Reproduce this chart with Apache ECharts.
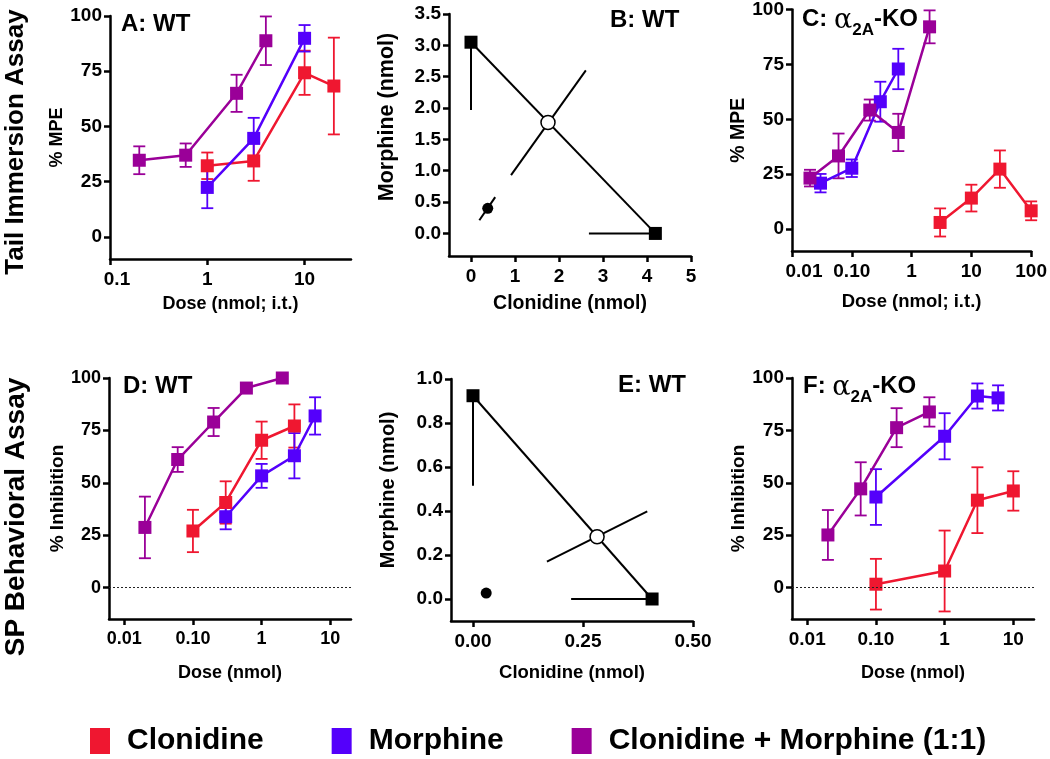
<!DOCTYPE html>
<html>
<head>
<meta charset="utf-8">
<script src="https://cdn.jsdelivr.net/npm/echarts@6/dist/echarts.min.js"></script>
<style>
  html, body { margin: 0; padding: 0; background: #fff; }
  #main { width: 1050px; height: 759px; }
</style>
</head>
<body>
<div id="main"></div>
<script>
const drugs = ["Clonidine", "Morphine", "Clonidine + Morphine (1:1)"];
const colors = ["#ef1730", "#5400fb", "#9a0098"];

// A: tail immersion, WT  (dose nmol, %MPE, SEM)
const aClonDose = [1, 3, 10, 20];
const aClonMean = [32.2, 34.4, 74.3, 68.3];
const aClonSem = [6.0, 9.0, 10.0, 21.9];
const aMorDose = [1, 3, 10];
const aMorMean = [22.4, 44.6, 89.9];
const aMorSem = [9.4, 9.3, 6.0];
const aMixDose = [0.2, 0.6, 2, 4];
const aMixMean = [34.7, 37.0, 65.0, 88.8];
const aMixSem = [6.3, 5.3, 8.4, 11.0];

// C: tail immersion, a2A-KO
const cClonDose = [3, 10, 30, 100];
const cClonMean = [3.0, 14.1, 27.3, 8.3];
const cClonSem = [6.4, 6.1, 8.5, 4.3];
const cMorDose = [0.03, 0.1, 0.3, 0.6];
const cMorMean = [20.9, 27.7, 58.0, 72.9];
const cMorSem = [4.2, 4.0, 9.1, 9.2];
const cMixDose = [0.02, 0.06, 0.2, 0.6, 2];
const cMixMean = [23.2, 33.3, 54.2, 44.0, 92.1];
const cMixSem = [3.8, 10.2, 4.8, 8.5, 7.5];

// D: SP behavioral, WT (% inhibition)
const dClonDose = [0.1, 0.3, 1, 3];
const dClonMean = [27.0, 40.6, 70.3, 77.1];
const dClonSem = [10.1, 10.1, 8.9, 10.3];
const dMorDose = [0.3, 1, 3, 6];
const dMorMean = [33.8, 53.3, 62.9, 81.9];
const dMorSem = [6.0, 5.7, 10.8, 8.9];
const dMixDose = [0.02, 0.06, 0.2, 0.6, 2];
const dMixMean = [28.7, 61.1, 79.0, 95.2, 100];
const dMixSem = [14.7, 5.9, 6.7, 0, 0];

// F: SP behavioral, a2A-KO
const fClonDose = [0.1, 1, 3, 10];
const fClonMean = [1.6, 7.9, 41.7, 46.1];
const fClonSem = [12.1, 19.3, 15.7, 9.4];
const fMorDose = [0.1, 1, 3, 6];
const fMorMean = [43.2, 72.2, 91.4, 90.5];
const fMorSem = [13.3, 11.0, 6.0, 6.0];
const fMixDose = [0.02, 0.06, 0.2, 0.6];
const fMixMean = [25.1, 47.1, 76.3, 83.8];
const fMixSem = [11.9, 12.7, 9.3, 7.0];

// B: isobologram, tail immersion (clonidine nmol, morphine nmol)
const bMorEd50 = [0, 3.05];
const bMorLow = [0, 1.97];
const bClonEd50 = [4.19, 0];
const bClonLow = [2.68, 0];
const bTheory = [1.75, 1.77];
const bTheoryCi = [[0.91, 0.93], [2.61, 2.6]];
const bExp = [0.38, 0.40];
const bExpCi = [[0.19, 0.21], [0.55, 0.58]];

// E: isobologram, SP behavioral
const eMorEd50 = [0, 0.924];
const eMorLow = [0, 0.515];
const eClonEd50 = [0.407, 0];
const eClonLow = [0.223, 0];
const eTheory = [0.282, 0.283];
const eTheoryCi = [[0.168, 0.17], [0.396, 0.398]];
const eExp = [0.030, 0.027];
const eExpCi = [[0.022, 0.019], [0.038, 0.035]];

const pctTicks = [0, 25, 50, 75, 100];
const logTicksA = [0.1, 1, 10];
const logLabelsA = ["0.1", "1", "10"];
const logTicksC = [0.01, 0.1, 1, 10, 100];
const logLabelsC = ["0.01", "0.10", "1", "10", "100"];
const logTicksDF = [0.01, 0.1, 1, 10];
const logLabelsDF = ["0.01", "0.10", "1", "10"];
const bYTicks = [0, 0.5, 1, 1.5, 2, 2.5, 3, 3.5];
const bXTicks = [0, 1, 2, 3, 4, 5];
const eYTicks = [0, 0.2, 0.4, 0.6, 0.8, 1.0];
const eXTicks = [0, 0.25, 0.5];

const FONT = '"Liberation Sans", Arial, sans-serif';

const dom = document.getElementById("main");
const myChart = echarts.init(dom);

const grids = [
  { left: 110, top: 16, width: 241, height: 243 },
  { left: 449, top: 14, width: 242, height: 242 },
  { left: 792, top: 9, width: 242, height: 242 },
  { left: 109, top: 378, width: 242, height: 241 },
  { left: 451, top: 379, width: 242, height: 242 },
  { left: 792, top: 378, width: 242, height: 241 },
];

function axisBase(g) {
  return {
    gridIndex: g,
    axisLine: { onZero: false, lineStyle: { color: "#000", width: 2.5 } },
    axisTick: { length: 6, lineStyle: { color: "#000", width: 2.5 } },
    splitLine: { show: false },
    nameLocation: "middle",
  };
}

function labelOf(ticks, labels, v) {
  const k = ticks.findIndex((t) => Math.abs(t - v) < 1e-9 * Math.max(1, t));
  return k < 0 ? "" : labels[k];
}

function logX(g, min, max, ticks, labels, name, opt) {
  const shift = opt.shift || 0;
  return Object.assign(axisBase(g), {
    type: "log",
    logBase: 10,
    min: min,
    max: max,
    name: name,
    nameGap: opt.gap,
    nameTextStyle: { fontSize: opt.nameSize, fontWeight: "bold", fontFamily: FONT, color: "#000" },
    axisTick: { length: 6, lineStyle: { color: "#000", width: 2.5 }, customValues: ticks },
    axisLabel: {
      customValues: ticks,
      margin: 11,
      fontSize: opt.size,
      fontWeight: "bold",
      fontFamily: FONT,
      color: "#000",
      formatter: (v) => {
        const s = labelOf(ticks, labels, v);
        return shift && Math.abs(v - ticks[0]) < 1e-12 ? "{m|" + s + "}" : s;
      },
      rich: {
        m: { fontSize: opt.size, fontWeight: "bold", fontFamily: FONT, color: "#000", padding: [0, 0, 0, shift * 2] },
      },
    },
  });
}

function valAxis(g, min, max, ticks, digits, name, opt) {
  const ax = Object.assign(axisBase(g), {
    type: "value",
    min: min,
    max: max,
    name: name,
    nameGap: opt.gap,
    nameTextStyle: {
      fontSize: opt.nameSize, fontWeight: "bold", fontFamily: FONT, color: "#000",
      padding: opt.namePad || 0,
    },
    axisTick: { length: 6, lineStyle: { color: "#000", width: 2.5 }, customValues: ticks },
    axisLabel: {
      customValues: ticks,
      margin: opt.margin || 8,
      fontSize: opt.size,
      fontWeight: "bold",
      fontFamily: FONT,
      color: "#000",
      formatter: (v) => v.toFixed(digits),
    },
  });
  return ax;
}

function errRender(color) {
  return function (params, api) {
    const x = api.value(0);
    const lo = api.value(1);
    const hi = api.value(2);
    if (!(hi - lo > 0)) return null;
    const p0 = api.coord([x, lo]);
    const p1 = api.coord([x, hi]);
    const w = 6;
    const st = { stroke: color, lineWidth: 1.8 };
    return {
      type: "group",
      children: [
        { type: "line", shape: { x1: p0[0], y1: p0[1], x2: p1[0], y2: p1[1] }, style: st },
        { type: "line", shape: { x1: p0[0] - w, y1: p0[1], x2: p0[0] + w, y2: p0[1] }, style: st },
        { type: "line", shape: { x1: p1[0] - w, y1: p1[1], x2: p1[0] + w, y2: p1[1] }, style: st },
      ],
    };
  };
}

function doseSeries(g, i, dose, mean, sem) {
  const c = colors[i];
  const pts = dose.map((d, k) => [d, mean[k]]);
  const bars = dose.map((d, k) => [d, mean[k] - sem[k], mean[k] + sem[k]]);
  return [
    {
      type: "custom",
      name: drugs[i],
      xAxisIndex: g,
      yAxisIndex: g,
      data: bars,
      encode: { x: 0, y: [1, 2] },
      renderItem: errRender(c),
      clip: false,
      silent: true,
      z: 2,
    },
    {
      type: "line",
      name: drugs[i],
      xAxisIndex: g,
      yAxisIndex: g,
      data: pts,
      symbol: "rect",
      symbolSize: 13,
      lineStyle: { color: c, width: 2.5 },
      itemStyle: { color: c, opacity: 1 },
      z: 3,
    },
  ];
}

function isoSeries(g, morEd50, morLow, clonEd50, clonLow, theory, theoryCi, exp, expCi) {
  const seg = (data) => ({
    type: "line",
    xAxisIndex: g,
    yAxisIndex: g,
    data: data,
    symbol: "none",
    lineStyle: { color: "#000", width: 2 },
    silent: true,
    z: 2,
  });
  return [
    seg([morEd50, clonEd50]),
    seg([morEd50, morLow]),
    seg([clonEd50, clonLow]),
    seg(theoryCi),
    seg(expCi),
    {
      type: "scatter", xAxisIndex: g, yAxisIndex: g, data: [morEd50, clonEd50],
      symbol: "rect", symbolSize: 13, itemStyle: { color: "#000", opacity: 1 }, z: 4,
    },
    {
      type: "scatter", xAxisIndex: g, yAxisIndex: g, data: [theory],
      symbol: "circle", symbolSize: 14,
      itemStyle: { color: "#fff", borderColor: "#000", borderWidth: 1.5, opacity: 1 }, z: 4,
    },
    {
      type: "scatter", xAxisIndex: g, yAxisIndex: g, data: [exp],
      symbol: "circle", symbolSize: 11, itemStyle: { color: "#000", opacity: 1 }, z: 4,
    },
  ];
}

function zeroLine(g) {
  return {
    type: "line",
    xAxisIndex: g,
    yAxisIndex: g,
    data: [],
    silent: true,
    markLine: {
      silent: true,
      symbol: "none",
      label: { show: false },
      lineStyle: { color: "#222", type: [2, 2], width: 1.2 },
      data: [{ yAxis: 0 }],
    },
  };
}

function panelTitle(text, left, top, rich) {
  return {
    text: text,
    left: left,
    top: top,
    padding: 0,
    textStyle: { fontSize: 24, fontWeight: "bold", fontFamily: FONT, color: "#000", rich: rich },
  };
}

const koRich = {
  b: { fontSize: 24, fontWeight: "bold", fontFamily: FONT, color: "#000", lineHeight: 26, verticalAlign: "top" },
  a: { fontSize: 27, fontWeight: "normal", fontFamily: '"DejaVu Serif", serif', color: "#000", lineHeight: 26, verticalAlign: "top" },
  s: { fontSize: 17, fontWeight: "bold", fontFamily: FONT, color: "#000", lineHeight: 17, padding: [15, 0, 0, 0], verticalAlign: "top" },
};

const option = {
  animation: false,
  backgroundColor: "#fff",
  title: [
    panelTitle("A: WT", 121, 12),
    panelTitle("B: WT", 610, 8),
    panelTitle("{b|C: }{a|α}{s|2A}{b|-KO}", 802, 7, koRich),
    panelTitle("D: WT", 123, 374),
    panelTitle("E: WT", 618, 373),
    panelTitle("{b|F: }{a|α}{s|2A}{b|-KO}", 803, 374, koRich),
  ],
  legend: {
    left: 85,
    top: 721,
    icon: "rect",
    itemWidth: 20,
    itemHeight: 26,
    itemGap: 68,
    textStyle: { fontSize: 30, fontWeight: "bold", fontFamily: FONT, color: "#000", padding: [0, 0, 0, 12] },
    data: drugs.map((n, i) => ({ name: n, itemStyle: { color: colors[i] } })),
  },
  graphic: [
    {
      type: "text", x: 16, y: 142, rotation: Math.PI / 2,
      style: { text: "Tail Immersion Assay", font: 'bold 26px "Liberation Sans"', fill: "#000", align: "center", verticalAlign: "middle" },
    },
    {
      type: "text", x: 16, y: 517, rotation: Math.PI / 2,
      style: { text: "SP Behavioral Assay", font: 'bold 28px "Liberation Sans"', fill: "#000", align: "center", verticalAlign: "middle" },
    },
  ],
  grid: grids,
  xAxis: [
    logX(0, 0.1, 30, logTicksA, logLabelsA, "Dose (nmol; i.t.)", { gap: 36, nameSize: 18, size: 19, shift: 7 }),
    valAxis(1, -0.5, 5, bXTicks, 0, "Clonidine (nmol)", { gap: 38, nameSize: 19.5, size: 19, margin: 11 }),
    logX(2, 0.01, 100, logTicksC, logLabelsC, "Dose (nmol; i.t.)", { gap: 41, nameSize: 18.5, size: 19, shift: 12 }),
    logX(3, 0.006, 20, logTicksDF, logLabelsDF, "Dose (nmol)", { gap: 45, nameSize: 18, size: 18 }),
    valAxis(4, -0.05, 0.5, eXTicks, 2, "Clonidine (nmol)", { gap: 42, nameSize: 18.5, size: 19, margin: 11 }),
    logX(5, 0.006, 20, logTicksDF, logLabelsDF, "Dose (nmol)", { gap: 45, nameSize: 18, size: 19 }),
  ],
  yAxis: [
    valAxis(0, -10, 100, pctTicks, 0, "% MPE", { gap: 38, nameSize: 18, size: 19 }),
    valAxis(1, -0.36, 3.5, bYTicks, 1, "Morphine (nmol)", { gap: 51, nameSize: 21.5, size: 19, namePad: [0, 0, 0, 36] }),
    valAxis(2, -10, 100, pctTicks, 0, "% MPE", { gap: 37, nameSize: 19.5, size: 19 }),
    valAxis(3, -15, 100, pctTicks, 0, "% Inhibition", { gap: 41, nameSize: 19, size: 18 }),
    valAxis(4, -0.1, 1.0, eYTicks, 1, "Morphine (nmol)", { gap: 53, nameSize: 20, size: 19, namePad: [0, 0, 0, 20] }),
    valAxis(5, -15, 100, pctTicks, 0, "% Inhibition", { gap: 39, nameSize: 19, size: 19 }),
  ],
  series: [
    ...doseSeries(0, 0, aClonDose, aClonMean, aClonSem),
    ...doseSeries(0, 1, aMorDose, aMorMean, aMorSem),
    ...doseSeries(0, 2, aMixDose, aMixMean, aMixSem),
    ...isoSeries(1, bMorEd50, bMorLow, bClonEd50, bClonLow, bTheory, bTheoryCi, bExp, bExpCi),
    ...doseSeries(2, 0, cClonDose, cClonMean, cClonSem),
    ...doseSeries(2, 1, cMorDose, cMorMean, cMorSem),
    ...doseSeries(2, 2, cMixDose, cMixMean, cMixSem),
    zeroLine(3),
    ...doseSeries(3, 0, dClonDose, dClonMean, dClonSem),
    ...doseSeries(3, 1, dMorDose, dMorMean, dMorSem),
    ...doseSeries(3, 2, dMixDose, dMixMean, dMixSem),
    ...isoSeries(4, eMorEd50, eMorLow, eClonEd50, eClonLow, eTheory, eTheoryCi, eExp, eExpCi),
    zeroLine(5),
    ...doseSeries(5, 0, fClonDose, fClonMean, fClonSem),
    ...doseSeries(5, 1, fMorDose, fMorMean, fMorSem),
    ...doseSeries(5, 2, fMixDose, fMixMean, fMixSem),
  ],
};

option && myChart.setOption(option);
</script>
</body>
</html>
